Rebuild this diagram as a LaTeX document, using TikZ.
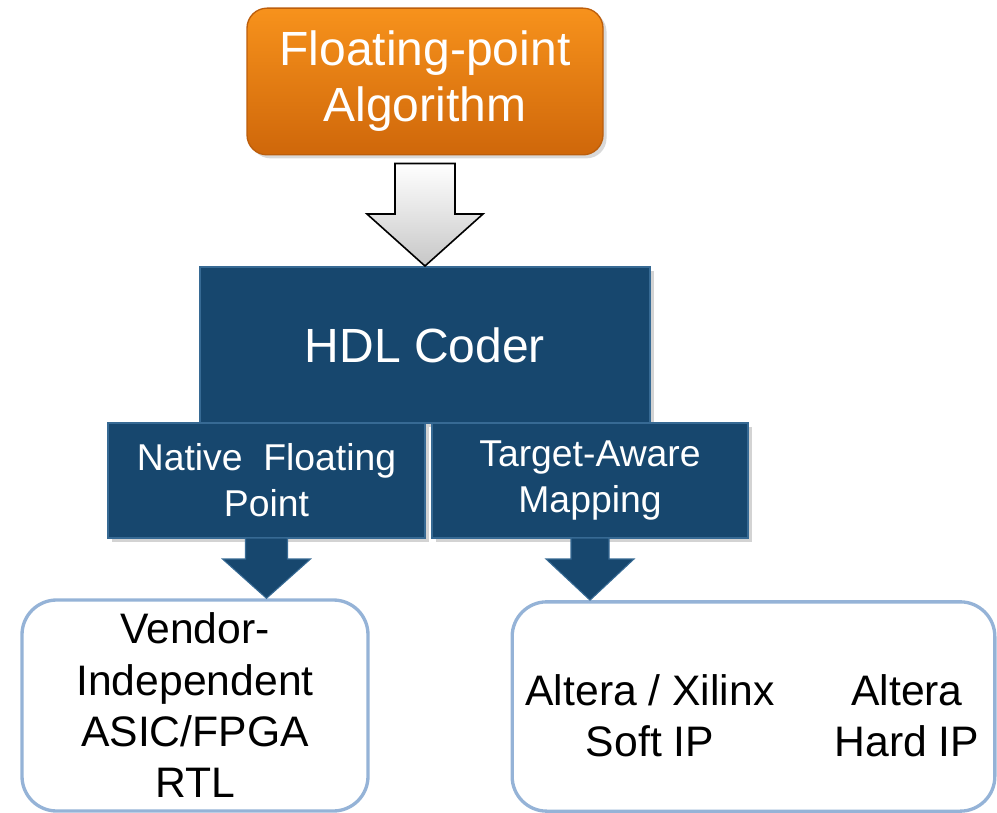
\documentclass[tikz,border=0pt]{standalone}
\usepackage{fontspec}
\setmainfont{Liberation Sans}
\usetikzlibrary{calc,shadows}
\definecolor{hdlblue}{RGB}{23,71,110}
\definecolor{hdledge}{RGB}{55,106,148}
\definecolor{orangetop}{RGB}{247,146,28}
\definecolor{orangebot}{RGB}{207,103,10}
\definecolor{orangeedge}{RGB}{188,94,12}
\definecolor{paleblue}{RGB}{149,179,215}
\tikzset{
  algobox/.style={rounded corners=15pt, top color=orangetop, bottom color=orangebot, draw=orangeedge, line width=1pt, text=white, align=center, drop shadow={opacity=0.3}},
  bluebox/.style={fill=hdlblue, draw=hdledge, line width=1.5pt, text=white, align=center, drop shadow={opacity=0.35}},
  outbox/.style={rounded corners=26pt, draw=paleblue, line width=2.5pt, fill=white, align=center},
  bluearrow/.style={fill=hdlblue, draw=hdledge, line width=0.8pt},
  grayarrow/.style={top color=white, bottom color=black!22, draw=black, line width=1.2pt}
}

\begin{document}
\begin{tikzpicture}[x=0.75pt,y=-0.75pt]
                \useasboundingbox (0,0) rectangle (997,813);
                \node[algobox, minimum width=267pt, minimum height=110pt, font=\fontsize{36}{42}\selectfont] (algo) at (425,81.5) {Floating-point\\Algorithm};
                \node[bluebox, minimum width=337.5pt, minimum height=117pt, font=\fontsize{36}{42}\selectfont] (hdl) at (425,345) {HDL Coder};
                \node[bluebox, minimum width=237.75pt, minimum height=86.25pt, font=\fontsize{28}{34.5}\selectfont] (nfp) at (266.5,480.5) {Native\ \ Floating\\Point};
                \node[bluebox, minimum width=237pt, minimum height=86.25pt, font=\fontsize{28}{34.5}\selectfont] (tam) at (590,480.5) {Target-Aware\\Mapping};
                \node[outbox, minimum width=259.5pt, minimum height=158.25pt, font=\fontsize{32}{38.5}\selectfont] (rtl) at (195,705.5) {Vendor-\\Independent\\ASIC/FPGA\\RTL};
                \node[outbox, minimum width=362pt, minimum height=157pt] (ip) at (753.5,706.5) {};
                \node[align=center, font=\fontsize{32}{38.5}\selectfont] (soft) at (650,716) {Altera / Xilinx\\Soft IP};
                \node[align=center, font=\fontsize{32}{38.5}\selectfont] (hard) at (907,716) {Altera\\Hard IP};
                \draw[grayarrow] ($(algo.south)+(-30,8)$) -- ($(algo.south)+(30,8)$) -- ($(hdl.north)+(30,-52)$) -- ($(hdl.north)+(58,-52)$) -- (hdl.north) -- ($(hdl.north)+(-58,-52)$) -- ($(hdl.north)+(-30,-52)$) -- cycle;
                \draw[bluearrow] ($(nfp.south)+(-21,-1)$) -- ($(nfp.south)+(21,-1)$) -- ($(nfp.south)+(21,20)$) -- ($(nfp.south)+(44,20)$) -- (nfp.south |- rtl.north) -- ($(nfp.south)+(-44,20)$) -- ($(nfp.south)+(-21,20)$) -- cycle;
                \draw[bluearrow] ($(tam.south)+(-19,-1)$) -- ($(tam.south)+(19,-1)$) -- ($(tam.south)+(19,20)$) -- ($(tam.south)+(44,20)$) -- (tam.south |- ip.north) -- ($(tam.south)+(-44,20)$) -- ($(tam.south)+(-19,20)$) -- cycle;
\end{tikzpicture}
\end{document}
